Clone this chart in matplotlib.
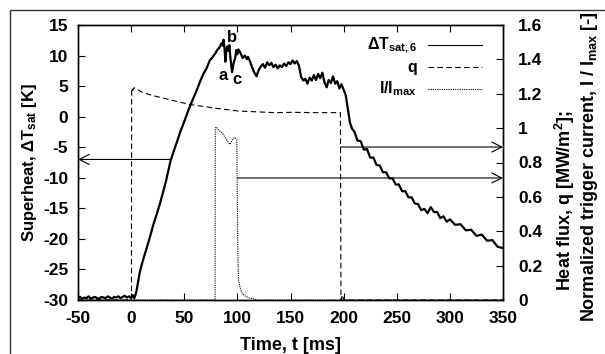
import numpy as np
import matplotlib.pyplot as plt
from matplotlib.patches import Rectangle

plt.rcParams['font.family'] = ['Liberation Sans', 'DejaVu Sans']
plt.rcParams['font.weight'] = 'bold'
plt.rcParams['axes.labelweight'] = 'bold'
plt.rcParams['axes.unicode_minus'] = False
plt.rcParams['mathtext.fontset'] = 'custom'
plt.rcParams['mathtext.rm'] = 'Liberation Sans:bold'
plt.rcParams['mathtext.it'] = 'Liberation Sans:bold'
plt.rcParams['mathtext.bf'] = 'Liberation Sans:bold'

# Superheat dT_sat,6 [K] vs time [ms]
t_dT = [-50, -48, -46, -44, -42, -40, -38, -36, -34, -32, -30, -28, -26, -24, -22,
        -20, -18, -16, -14, -12, -10, -8, -6, -4, -2, 0, 1.5,
        3, 4, 5, 6, 7, 8, 10, 12, 15, 18, 21, 24, 27, 30, 33, 37, 40, 43, 46, 50,
        54, 57, 61, 65, 68, 71, 74, 76, 79, 81, 83, 85, 86, 87, 88, 88.7, 89.5,
        90.5, 91.5, 92.5, 93.5, 95, 96.5, 98, 99, 100, 101, 103, 105, 107, 109,
        110, 112, 114, 116, 118, 120, 122, 124, 126, 128, 130, 132, 134, 136, 138,
        140, 142, 144, 146, 148, 150, 152, 154, 156, 158, 160, 162, 164, 166, 168,
        170, 172, 174, 176, 178, 180, 182, 184, 186, 188, 190, 192, 194, 196, 198,
        200, 202, 204, 206, 208, 210, 213, 216, 219, 222, 225, 228, 231, 234, 237,
        240, 243, 246, 249, 252, 255, 258, 261, 264, 267, 270, 273, 276, 279, 282,
        285, 288, 291, 294, 297, 300, 305, 310, 315, 320, 325, 330, 335, 340, 345, 350]
dT_sat = [-29.7, -29.5, -29.8, -29.6, -29.7, -29.4, -29.8, -29.6, -29.5, -29.7, -29.8,
          -29.5, -29.6, -29.7, -29.4, -29.6, -29.8, -29.5, -29.6, -29.4, -29.7, -29.5,
          -29.3, -29.6, -29.4, -29.7, -29.2,
          -29.7, -29.2, -28.6, -27.6, -26.6, -25.6, -24.2, -23.0, -21.3, -19.5, -17.6,
          -16.0, -14.3, -12.4, -10.4, -7.3, -5.7, -4.2, -2.6, -0.8,
          1.1, 2.4, 4.0, 5.8, 7.0, 7.9, 9.2, 9.6, 10.3, 10.9, 11.3, 12.0, 11.6, 12.6,
          11.0, 9.0, 10.5, 11.5, 10.8, 11.7, 9.5, 7.3, 8.8, 9.6, 10.9, 10.2, 11.0,
          10.4, 9.6, 10.0, 9.4, 9.8, 9.0, 8.0, 7.2, 6.6, 7.6, 8.2, 8.6, 8.0, 8.9,
          8.4, 8.8, 8.1, 8.5, 7.9, 8.4, 8.1, 8.7, 8.3, 8.9, 8.6, 9.2, 8.7, 9.1, 8.3,
          6.5, 5.9, 6.2, 5.4, 6.4, 5.9, 6.8, 6.0, 7.0, 6.3, 7.2, 5.6, 4.8, 6.0, 5.5,
          6.6, 5.4, 5.8, 4.6, 5.3, 4.4, 3.5, 1.2, -1.0, -2.0, -2.4, -3.9, -4.0, -5.4,
          -5.3, -6.7, -6.7, -7.9, -8.0, -9.1, -9.1, -10.1, -10.1, -11.1, -11.1, -12.2,
          -12.2, -13.2, -13.2, -14.2, -14.3, -15.3, -15.1, -15.8, -14.8, -15.6, -15.6,
          -16.6, -16.3, -17.2, -16.8, -17.7, -17.6, -18.6, -18.5, -19.5, -19.3, -20.3,
          -20.2, -21.3, -21.5]

# heat flux q [MW/m2]
t_q = [-50, 0.3, 0.5, 1.5, 3, 10, 20, 30, 40, 50, 58, 70, 80, 90, 100, 110, 121,
       135, 152, 175, 197, 197.5, 199, 200, 350]
q = [0, 0, 1.235, 1.22, 1.235, 1.21, 1.19, 1.175, 1.16, 1.145, 1.135, 1.125, 1.115,
     1.108, 1.10, 1.097, 1.094, 1.09, 1.092, 1.09, 1.09, 0, 0.03, 0, 0]

# normalized trigger current I/Imax [-]
t_I = [-50, 79, 79.2, 80, 82, 86, 90, 93, 96, 98, 99.5, 100, 100.5, 101, 103, 105,
       108, 112, 120, 350]
I_norm = [0, 0, 1.0, 1.007, 0.99, 0.97, 0.93, 0.905, 0.94, 0.945, 0.93, 0.55, 0.25,
          0.12, 0.06, 0.035, 0.02, 0.01, 0, 0]

legend_labels = [r'$\Delta$T$_{sat,6}$', 'q', r'I/I$_{max}$']

fig = plt.figure(figsize=(6.05, 3.54), dpi=100)
fig.patches.append(Rectangle((10/605, -0.5), 2, 1.5 - 10/354, transform=fig.transFigure,
                             fill=False, edgecolor='#333333', linewidth=1.0))
ax = fig.add_axes([78/605, 1 - 300/354, 425/605, 275/354])
ax2 = ax.twinx()

styles = ['-', (0, (5, 3)), (0, (1, 1))]
ax.plot(t_dT, dT_sat, color='black', linewidth=1.6)
ax2.plot(t_q, q, color='black', linewidth=0.8, linestyle=styles[1])
ax2.plot(t_I, I_norm, color='black', linewidth=0.8, linestyle=styles[2])

ax.set_xlim(-50, 350)
ax.set_ylim(-30, 15)
ax2.set_ylim(0, 1.6)
ax.set_xticks(np.arange(-50, 351, 50))
ax.set_yticks(np.arange(-30, 16, 5))
ax2.set_yticks(np.arange(0, 1.61, 0.2))
ax2.set_yticklabels(['0', '0.2', '0.4', '0.6', '0.8', '1', '1.2', '1.4', '1.6'])

ax.tick_params(axis='x', direction='in', top=True, length=5, labelsize=12.5, pad=8)
ax.tick_params(axis='y', direction='in', length=5, labelsize=12.5, pad=7)
ax2.tick_params(axis='y', direction='in', length=5, labelsize=12.5, pad=11)
for lab in ax.get_xticklabels() + ax.get_yticklabels() + ax2.get_yticklabels():
    lab.set_fontweight('bold')
for a in (ax, ax2):
    for s in a.spines.values():
        s.set_linewidth(1.0)

ax.set_xlabel('Time, t [ms]', fontsize=13, labelpad=8)
ax.set_ylabel(r'Superheat, $\Delta$T$_{sat}$ [K]', fontsize=12, labelpad=3)
fig.text(565/605, 1 - 200/354, r'Heat flux, q [MW/m$^2$];', rotation=90,
         ha='center', va='center', fontsize=13)
fig.text(590/605, 1 - 167/354, r'Normalized trigger current, I / I$_{max}$ [-]',
         rotation=90, ha='center', va='center', fontsize=13)

# arrows pointing to axes
ax.annotate('', xy=(-50, -7), xytext=(37, -7),
            arrowprops=dict(arrowstyle='->', lw=0.8, mutation_scale=18, shrinkA=0, shrinkB=0))
ax2.annotate('', xy=(350, 0.89), xytext=(197, 0.89),
             arrowprops=dict(arrowstyle='->', lw=0.8, mutation_scale=18, shrinkA=0, shrinkB=0))
ax2.annotate('', xy=(350, 0.71), xytext=(100, 0.71),
             arrowprops=dict(arrowstyle='->', lw=0.8, mutation_scale=18, shrinkA=0, shrinkB=0))

ax.text(86.6, 6.8, 'a', fontsize=12, ha='center', va='center')
ax.text(95, 12.9, 'b', fontsize=12, ha='center', va='center')
ax.text(100, 6.0, 'c', fontsize=12, ha='center', va='center')

# legend, text right aligned with the sample line on its right (gnuplot style)
leg_y = [0.927, 0.847, 0.767]
for ls, lab, yy in zip(styles, legend_labels, leg_y):
    ax2.text(0.7976, yy, lab, transform=ax2.transAxes, ha='right', va='center',
             fontsize=11.5)
    ax2.plot([0.8235, 0.9506], [yy, yy], transform=ax2.transAxes, color='black',
             linewidth=0.8, linestyle=ls)

fig.savefig('out.png', dpi=100)
